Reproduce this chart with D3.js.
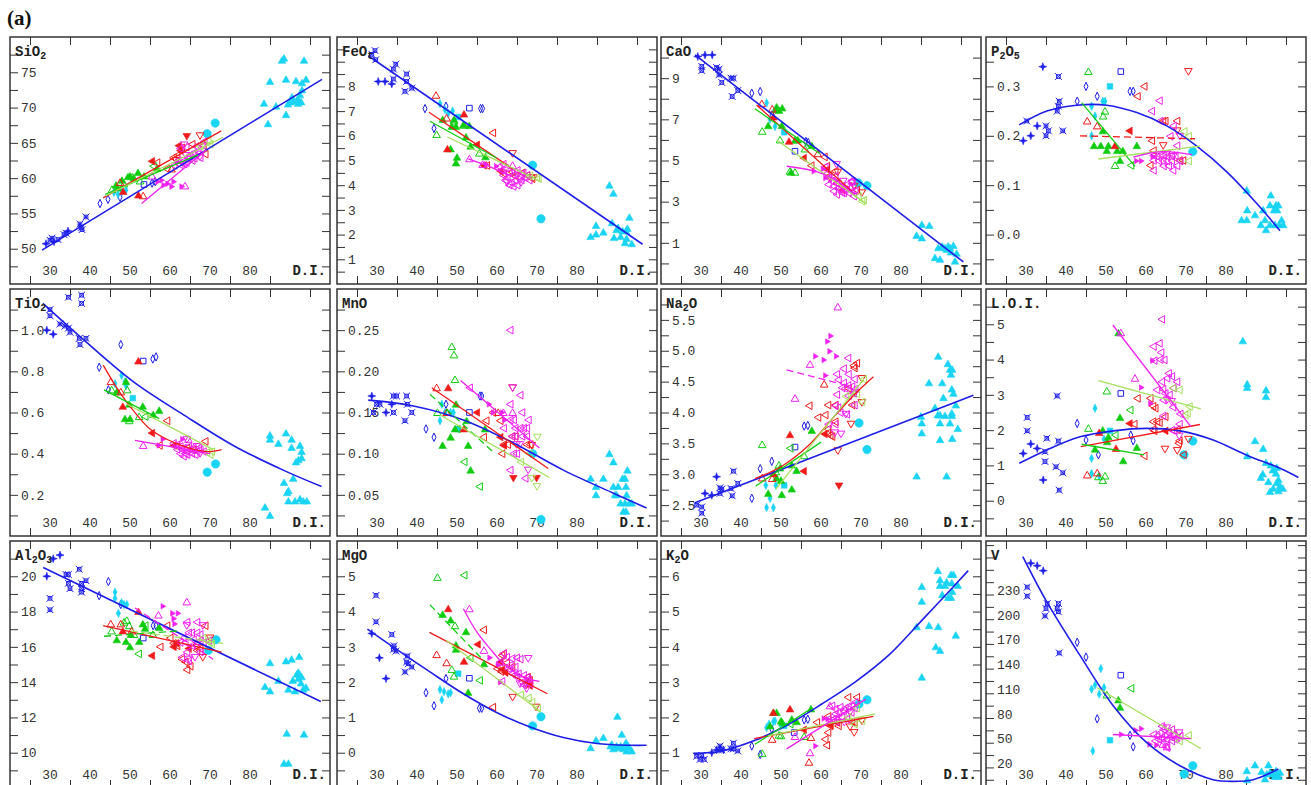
<!DOCTYPE html>
<html>
<head>
<meta charset="utf-8">
<script src="https://cdn.jsdelivr.net/npm/d3@7"></script>
<style>
  body { margin: 0; background: #ffffff; }
  svg { display: block; }
</style>
</head>
<body>
<div id="chart"></div>
<script>
/* Major-oxide variation vs D.I. — 12 small panels */

// ---- axes / panels ----
const PANEL_TITLES = ["SiO_2", "FeO_t", "CaO", "P_2O_5", "TiO_2", "MnO", "Na_2O", "L.O.I.", "Al_2O_3", "MgO", "K_2O", "V"];
const X_DOMAIN = [20, 100];
const X_LABELS = [30, 40, 50, 60, 70, 80];
const X_TOP_TICKS = [25, 35, 45, 55, 65, 75, 85, 95];
const X_BOTTOM_TICKS = [25, 35, 45, 55, 65, 75, 85];
const Y_DOMAINS = [[45, 80], [0, 10], [-1, 11], [-0.1, 0.4], [0, 1.2], [0, 0.3], [2, 6], [-1, 6], [8, 22], [-1, 6], [0, 7], [-10, 290]];
const Y_STEPS = [2.5, 0.5, 1, 0.05, 0.1, 0.025, 0.25, 0.5, 1, 0.5, 0.5, 15];
const Y_LABELS = [
  ["50", "55", "60", "65", "70", "75"],
  ["1", "2", "3", "4", "5", "6", "7", "8"],
  ["1", "3", "5", "7", "9"],
  ["0.0", "0.1", "0.2", "0.3"],
  ["0.2", "0.4", "0.6", "0.8", "1.0"],
  ["0.05", "0.10", "0.15", "0.20", "0.25"],
  ["2.5", "3.0", "3.5", "4.0", "4.5", "5.0", "5.5"],
  ["0", "1", "2", "3", "4", "5"],
  ["10", "12", "14", "16", "18", "20"],
  ["0", "1", "2", "3", "4", "5"],
  ["1", "2", "3", "4", "5", "6"],
  ["20", "50", "80", "110", "140", "170", "200", "230"]
];

// ---- samples: [series code, [[D.I., value], ...]] ----
const SIO2_PTS = [
  ["bs", [[29, 50.7], [31, 51], [34.5, 52.5]]],
  ["bx", [[30, 51.2], [30.5, 51.5], [32, 51.3], [33.5, 52], [34, 52.2], [37.5, 53.5], [37.8, 53], [38, 52.7], [39, 54.5]]],
  ["bd", [[42.5, 56.4], [44.5, 57], [47.5, 57.3], [55.5, 59.3], [56.3, 59.5]]],
  ["bq", [[53.5, 59.1]]],
  ["cd", [[46, 58], [47, 57.7], [48, 58.1], [49, 58.3]]],
  ["cc", [[69.3, 66.3], [71.3, 67.8]]],
  ["ct", [[83.5, 70.6], [84.5, 67.7], [85, 73.7], [86.5, 70.2], [88, 76.7], [88.5, 77], [89, 74], [89, 69], [89.5, 70.5], [90, 70.8], [90.5, 71.5], [91, 71], [91.5, 73.8], [92, 71.2], [92, 70.6], [92.5, 71.8], [93, 73.5], [93, 72.5], [93.5, 76.7], [94, 74], [92.8, 70.8], [91.7, 70.9]]],
  ["gT", [[46.5, 59], [48, 59.7], [49.5, 60.2], [50, 60.3], [52, 60.8], [53.5, 60.3], [56.8, 61.4], [47, 58.6], [51, 60]]],
  ["gt", [[45.5, 58.4], [48.5, 59.2], [52.5, 59.6]]],
  ["gl", [[55.8, 61.7], [50, 60.1]]],
  ["rt", [[47.5, 59.4], [53.3, 57.5], [60.4, 61.3]]],
  ["rT", [[52.1, 57.6], [48.3, 58.1]]],
  ["rL", [[55.4, 62.4], [62.1, 64.6], [62.5, 63.9]]],
  ["rl", [[56.7, 62.2], [59.2, 61.3], [60.8, 62.9], [61.7, 63.2], [62.9, 64.3], [68.3, 64.6], [68.75, 63.4], [65.5, 64.8]]],
  ["rv", [[67.5, 66], [61.5, 62.5]]],
  ["rV", [[64.2, 65.9]]],
  ["ml", [[61, 61.8], [62, 62.5], [62.5, 61.9], [63, 62.3], [63.5, 62], [64, 62.2], [64.5, 62.9], [65, 63.3], [66, 63.6], [66.5, 64.5], [67, 63.8], [68, 64.7], [68.5, 65.2], [62.5, 64.2], [64, 64.4], [65.5, 62.5], [66, 62.8], [67.5, 62.9]]],
  ["mv", [[63.5, 64.7], [64, 63.2], [65, 62.7], [67, 63.4], [67.5, 63]]],
  ["mR", [[57, 59.5], [58, 59.7], [58.5, 59], [59.5, 59.2], [60.5, 58.8], [61, 59.5], [62, 62.3], [63, 58.8]]],
  ["mt", [[63.75, 58.9], [55.5, 60.3]]],
  ["ll", [[67.5, 64.5], [69.5, 65.3], [70, 64.8]]]
];
const FEO_PTS = [
  ["bx", [[28.7, 9.3], [29.5, 9.45], [29.7, 9.08], [34.1, 8.7], [34.7, 8.9], [34.1, 8.3], [37.4, 8.5], [37.4, 8.2], [37, 7.8], [38.7, 7.93]]],
  ["bs", [[30.3, 8.2], [32, 8.2], [33.7, 8.1]]],
  ["bd", [[42, 7.1], [44.25, 6.3], [47.25, 7.2], [55.9, 7.1], [56.4, 7.1]]],
  ["bq", [[53.1, 7.12]]],
  ["cd", [[45.75, 7.3], [47, 7.06], [47.8, 6.9], [48.9, 7]]],
  ["cq", [[50.3, 6.76]]],
  ["cc", [[68.9, 4.81], [71, 2.64]]],
  ["ct", [[88.1, 4.0], [89.1, 3.67], [83.4, 1.92], [84.75, 2.02], [84.75, 2.37], [86.6, 2.1], [89.25, 1.88], [89.9, 2.2], [90.9, 1.92], [91.4, 2.15], [92, 1.67], [92.25, 2.15], [92.6, 2.25], [93.1, 2.7], [93.7, 1.63], [92.4, 1.84], [88.75, 2.48], [90.3, 2.28]]],
  ["gT", [[46.4, 6.66], [48.7, 6.38], [49.75, 6.38], [49.25, 6.66], [52.25, 5.95], [53.1, 6.41], [53.4, 5.58], [48.4, 5.47], [57.1, 5.15], [50, 5.13], [49.75, 4.9], [51.6, 6.45]]],
  ["gt", [[44.9, 6.05], [49.25, 6.6], [51.75, 6.43], [55.6, 5.3]]],
  ["rt", [[44.75, 7.64], [47.4, 6.72]]],
  ["rT", [[51.75, 6.88], [47.6, 5.47]]],
  ["rL", [[54.9, 5.64], [56.6, 4.8], [60.75, 4.57]]],
  ["rl", [[58.9, 6.12], [57.4, 4.8], [61.6, 4.47], [63.7, 4.53], [64.5, 4.37], [67.4, 4.39], [68.7, 4.26], [66.2, 4.5]]],
  ["rv", [[63.9, 5.28], [69.1, 4.3]]],
  ["ml", [[61, 4.6], [61.5, 4.4], [62, 4.7], [62.5, 4.3], [63, 4.5], [63.5, 4.1], [64, 4.4], [64.5, 4.2], [65, 4.6], [65.5, 4.3], [66, 4.4], [66.5, 4.5], [67, 4.3], [67.5, 4.4], [68, 4.2], [62, 4.2], [63, 4.0], [64, 3.95], [60.5, 4.75], [61.5, 4.85], [65, 4.0], [66, 4.2]]],
  ["mt", [[53.1, 5.07], [63.9, 4.8], [56.4, 4.84]]],
  ["mR", [[57.4, 4.84], [59.9, 4.77]]],
  ["mv", [[62.5, 4.1], [64.5, 4.5], [66, 4.1]]],
  ["ll", [[68.1, 4.37], [69.9, 4.3], [70.3, 4.26]]]
];
const CAO_PTS = [
  ["bs", [[29.2, 10.05], [31, 10.13], [32.8, 10.13]]],
  ["bx", [[30.2, 9.57], [30.2, 9.37], [33.9, 9.52], [34.5, 9.16], [35.2, 8.79], [37.5, 9], [38.1, 9], [37.8, 8.11], [39.2, 8.4], [34.5, 9.44]]],
  ["bd", [[42.7, 8.27], [44.8, 8.35], [47.8, 7.22], [56.2, 5.93], [56.8, 5.88]]],
  ["bq", [[53.5, 5.45]]],
  ["cd", [[46.4, 7.8], [47.25, 7.0], [48.5, 6.65]]],
  ["cq", [[50.8, 6.37]]],
  ["cc", [[69.3, 3.91], [71.5, 3.78]]],
  ["ct", [[83.9, 1.36], [85.2, 1.24], [85.2, 1.89], [87.1, 1.84], [88.5, 0.28], [89.75, 0.2], [89.3, 0.76], [90.3, 0.84], [91.4, 0.68], [91.8, 0.84], [92.5, 0.55], [93.1, 0.87], [93.9, 0.49], [93.5, 0.11], [91, 0.76], [92.25, 0.76]]],
  ["gT", [[46.8, 6.69], [48.9, 7.6], [49.5, 7.43], [50.3, 7.55], [50.2, 6.7], [53.5, 5.98], [54.2, 6.0], [57.7, 5.72], [52.5, 4.43], [48.7, 7.47]]],
  ["gt", [[45.3, 6.42], [49.75, 6.0], [52.25, 4.48], [53.5, 4.43], [56, 5.56]]],
  ["rt", [[45.2, 7.76], [47.8, 7.5], [59.2, 5.33]]],
  ["rT", [[52, 5.93], [48.1, 7.11]]],
  ["rL", [[55.6, 5.12], [61.4, 4.56], [65.2, 3.56]]],
  ["rl", [[57.5, 4.75], [60.8, 5.17], [61.4, 4.72], [61.8, 4.23], [63.5, 4.48], [63.9, 3.88], [67.7, 3.99], [68.9, 3.56]]],
  ["rv", [[64.2, 4.43], [70.2, 3.43], [68.3, 3.75]]],
  ["ml", [[61, 4.69], [61.4, 4.36], [61.8, 4.15], [62.7, 3.99], [63.1, 3.75], [63.5, 4.23], [63.9, 3.91], [64.3, 3.67], [64.75, 3.59], [65.2, 3.75], [65.6, 3.43], [66, 3.59], [66.8, 3.43], [67.25, 3.67], [67.7, 3.51], [68.1, 3.26], [68.5, 3.51], [65.2, 3.43], [63.9, 3.35], [66.4, 3.83], [67.7, 3.99], [61.8, 3.83], [63.1, 3.51]]],
  ["mv", [[63.9, 4.8], [65.6, 3.99], [67.7, 3.91]]],
  ["mR", [[58.3, 4.48], [60.6, 4.59], [61.2, 4.15]]],
  ["mt", [[67.7, 4.0]]],
  ["ll", [[70.2, 3.02], [69.3, 3.26], [70.6, 3.07]]]
];
const P2O5_PTS = [
  ["bx", [[30.2, 0.23], [38.1, 0.32], [35, 0.22], [35, 0.2], [35.6, 0.21], [38.3, 0.27], [38.1, 0.26], [39.2, 0.21], [37.8, 0.25]]],
  ["bs", [[34.2, 0.34], [29.3, 0.19], [31.2, 0.2], [32.8, 0.22]]],
  ["bd", [[42.8, 0.27], [45, 0.3], [47.8, 0.28], [56, 0.29], [56.8, 0.29]]],
  ["bq", [[53.7, 0.33]]],
  ["cd", [[46.4, 0.26], [47.25, 0.24], [49.2, 0.27], [49.75, 0.27], [46.4, 0.2]]],
  ["cq", [[51, 0.3]]],
  ["cc", [[71.7, 0.168]]],
  ["ct", [[83.9, 0.03], [85.2, 0.03], [85.3, 0.05], [87.25, 0.04], [89.3, 0.05], [89.75, 0.03], [88.7, 0.02], [90, 0.01], [91, 0.06], [91.2, 0.08], [92, 0.05], [92.5, 0.06], [92.8, 0.05], [93.1, 0.06], [93.9, 0.03], [94.3, 0.02], [91, 0.02], [92.25, 0.02], [93.3, 0.02], [85.2, 0.09]]],
  ["gT", [[47, 0.18], [48.7, 0.18], [49.2, 0.21], [50.6, 0.18], [50.2, 0.17], [52.8, 0.17], [53.5, 0.15], [54.2, 0.17], [57.7, 0.18]]],
  ["gt", [[45.6, 0.33], [49.75, 0.25], [49.3, 0.24], [52.25, 0.14]]],
  ["gl", [[56.2, 0.14]]],
  ["rt", [[45.3, 0.23], [47.8, 0.22]]],
  ["rT", [[52.25, 0.18]]],
  ["rL", [[55.8, 0.21]]],
  ["rl", [[59.5, 0.3], [57.8, 0.28], [61.4, 0.19], [61.8, 0.17], [61, 0.14], [64.2, 0.23], [64.75, 0.23], [67.7, 0.23], [68.3, 0.15], [69.2, 0.15]]],
  ["rv", [[70.6, 0.33], [64.3, 0.18], [67.8, 0.21]]],
  ["ml", [[63.3, 0.271], [61.4, 0.25], [63.5, 0.23], [66.8, 0.22], [66, 0.199], [67.7, 0.18], [61.8, 0.16], [62.7, 0.158], [63.5, 0.16], [64.3, 0.16], [65.2, 0.158], [66.4, 0.16], [67.25, 0.16], [61.8, 0.15], [63.1, 0.149], [64.2, 0.149], [65.2, 0.149], [66.4, 0.149], [68.5, 0.149], [61.8, 0.13], [64.3, 0.139], [65.6, 0.139], [66.7, 0.13], [67.7, 0.139]]],
  ["mv", [[65.2, 0.164], [66.8, 0.158], [68.5, 0.199]]],
  ["mR", [[58.9, 0.149], [57.7, 0.149], [61.8, 0.158]]],
  ["ll", [[69.5, 0.209], [70.6, 0.199], [70.6, 0.149]]]
];
const TIO2_PTS = [
  ["bx", [[34.6, 1.16], [37.9, 1.17], [37.9, 1.13], [30, 1.1], [30, 1.07], [32.5, 1.03], [33.75, 1.02], [34.6, 1.01], [35, 0.99], [37.3, 0.96], [37.5, 0.93], [39, 0.96]]],
  ["bs", [[29.2, 1.0], [30.8, 0.98]]],
  ["bd", [[42.3, 0.82], [47.7, 0.93], [55.7, 0.86], [56.5, 0.87], [44.6, 0.71]]],
  ["bq", [[53.3, 0.85]]],
  ["cd", [[46.25, 0.74], [47.9, 0.78], [48.75, 0.75], [49, 0.73]]],
  ["cq", [[50.7, 0.67]]],
  ["cc", [[69.3, 0.31], [71.4, 0.35]]],
  ["ct", [[85, 0.49], [85, 0.47], [87.1, 0.45], [89, 0.5], [90.4, 0.47], [90.4, 0.43], [92.5, 0.44], [92.9, 0.41], [92.1, 0.37], [91.5, 0.36], [92.9, 0.38], [90.8, 0.28], [88.5, 0.26], [89.6, 0.22], [89.3, 0.21], [89.6, 0.17], [91.25, 0.17], [92.5, 0.18], [93.3, 0.17], [94.2, 0.17], [83.75, 0.14], [85, 0.1]]],
  ["gT", [[46.7, 0.70], [49, 0.75], [49.8, 0.64], [48.75, 0.57], [50, 0.57], [53.2, 0.63], [55.8, 0.59], [57.3, 0.61]]],
  ["gt", [[45.4, 0.71], [49.3, 0.71], [49.8, 0.56], [52.3, 0.58]]],
  ["gl", [[53.75, 0.58]]],
  ["rt", [[45.2, 0.75], [47.7, 0.70]]],
  ["rT", [[52.1, 0.85], [48.2, 0.63]]],
  ["rL", [[55.4, 0.50], [60.8, 0.44]]],
  ["rl", [[59.2, 0.56], [57.3, 0.44], [68.75, 0.46], [61.7, 0.435], [64.2, 0.427], [65.8, 0.419]]],
  ["ml", [[60.8, 0.45], [61.7, 0.443], [62.5, 0.435], [62.9, 0.42], [63.3, 0.427], [63.75, 0.40], [64.2, 0.41], [65, 0.42], [65.4, 0.40], [65.8, 0.427], [66.7, 0.41], [67.5, 0.42], [62.5, 0.40], [63.3, 0.387], [64.2, 0.395], [64.6, 0.435], [66.25, 0.395], [67.1, 0.427], [61.7, 0.42], [68.3, 0.41]]],
  ["mv", [[64.2, 0.468], [66.7, 0.435], [67.5, 0.40]]],
  ["mR", [[57.3, 0.44], [58.3, 0.47], [63.2, 0.47]]],
  ["mt", [[53.3, 0.44], [64.6, 0.47]]],
  ["ll", [[70, 0.395], [70.4, 0.41], [69.2, 0.406]]]
];
const MNO_PTS = [
  ["bx", [[29.1, 0.15], [29.9, 0.16], [30.75, 0.16], [34.1, 0.17], [34.9, 0.17], [34.1, 0.15], [37.4, 0.17], [37.6, 0.16], [37, 0.14], [38.7, 0.15]]],
  ["bs", [[28.7, 0.17], [32.25, 0.15], [33.7, 0.16]]],
  ["bd", [[42.25, 0.13], [44.25, 0.12], [47.25, 0.16], [55.75, 0.17], [56.2, 0.17]]],
  ["bq", [[53.1, 0.15]]],
  ["cd", [[45.75, 0.14], [46.2, 0.16], [47, 0.15], [48.4, 0.15], [49.1, 0.15]]],
  ["cq", [[50.3, 0.13]]],
  ["cc", [[68.9, 0.10], [71, 0.02]]],
  ["ct", [[88.1, 0.10], [89.1, 0.09], [83.4, 0.07], [84.75, 0.06], [84.75, 0.05], [86.6, 0.07], [89.1, 0.06], [89.9, 0.05], [90.3, 0.06], [90.9, 0.04], [91.4, 0.07], [92, 0.07], [92.25, 0.06], [92.4, 0.05], [92.6, 0.08], [91.6, 0.03], [92.25, 0.03], [93.1, 0.04], [93.7, 0.04], [92, 0.04], [89.5, 0.05]]],
  ["gT", [[46.4, 0.11], [48.4, 0.12], [49.75, 0.16], [49.5, 0.13], [52.4, 0.14], [52.8, 0.11], [53.4, 0.08], [57, 0.13]]],
  ["gt", [[45.1, 0.15], [48.7, 0.23], [49.25, 0.22], [49.5, 0.19], [47.6, 0.15]]],
  ["gl", [[55.6, 0.06], [51.75, 0.09], [50, 0.13]]],
  ["rt", [[44.9, 0.18], [47.4, 0.15], [60.3, 0.15]]],
  ["rT", [[47.8, 0.18], [51.75, 0.13]]],
  ["rL", [[54.9, 0.15], [60.75, 0.12], [61.6, 0.11]]],
  ["rl", [[57.25, 0.14], [56.6, 0.12], [58.9, 0.15], [60.75, 0.14], [61.2, 0.10], [61.6, 0.111], [62.6, 0.111], [63.7, 0.121], [64.5, 0.121], [67.4, 0.111], [68.25, 0.111]]],
  ["rv", [[63.9, 0.18], [68.7, 0.11]]],
  ["rV", [[64.1, 0.07], [69.9, 0.07]]],
  ["ml", [[63.25, 0.25], [53.1, 0.18], [65.75, 0.171], [63.25, 0.16], [66.2, 0.15], [67.8, 0.141], [63.25, 0.141], [64.1, 0.141], [61.6, 0.131], [64.5, 0.131], [65.75, 0.131], [66.6, 0.131], [67.4, 0.131], [63.7, 0.121], [64.5, 0.121], [66.2, 0.121], [67.4, 0.121], [64.1, 0.10], [64.9, 0.10], [63.25, 0.08], [67, 0.07]]],
  ["mv", [[63.9, 0.18], [67.8, 0.08], [64.9, 0.111], [65.75, 0.111]]],
  ["mR", [[58.1, 0.16], [61.4, 0.15], [62, 0.141], [59.1, 0.15]]],
  ["mt", [[61.6, 0.15], [63.9, 0.15]]],
  ["lv", [[70.1, 0.12], [68.7, 0.07], [70, 0.06]]],
  ["ll", [[65.9, 0.09], [68, 0.10]]]
];
const NA2O_PTS = [
  ["bx", [[28.9, 2.5], [30.2, 2.47], [30.2, 2.37], [34.75, 2.78], [35.2, 2.76], [34.75, 2.69], [37.5, 2.77], [37.8, 2.65], [38.1, 3.05], [39.2, 2.85]]],
  ["bs", [[31, 2.69], [32.7, 2.66], [33.9, 2.96]]],
  ["bd", [[42.7, 2.61], [44.8, 3.09], [47.7, 3.21], [55.8, 3.78], [56.7, 3.79]]],
  ["bq", [[53.5, 3.44]]],
  ["cd", [[46.2, 2.82], [47.25, 2.61], [46.4, 2.46], [48.1, 2.46], [48.7, 2.82]]],
  ["cq", [[50.8, 2.82]]],
  ["cc", [[69.5, 3.83], [71.5, 3.4]]],
  ["ct", [[89.3, 4.91], [91.7, 4.79], [92.25, 4.7], [92.5, 4.62], [92.8, 4.7], [90.3, 4.48], [87, 4.48], [90.6, 4.24], [92.7, 4.38], [93.1, 4.31], [93.7, 4.12], [88.5, 4.08], [89.2, 3.96], [89.75, 3.96], [91, 3.95], [92.7, 3.99], [92.7, 3.95], [85, 3.94], [85.2, 3.83], [89.75, 3.83], [92.25, 3.83], [94.2, 3.74], [85.2, 3.67], [89.75, 3.56], [92.8, 3.58], [83.9, 2.97], [91.4, 2.97]]],
  ["gT", [[46.8, 2.69], [48.9, 2.94], [50, 2.9], [50.2, 2.67], [52.7, 2.76], [53.9, 3.06], [49.75, 3.1], [57.7, 3.71], [52.7, 3.15]]],
  ["gt", [[45.3, 3.48], [49.5, 3.15], [48.7, 3.04], [55.8, 3.3]]],
  ["gl", [[52.25, 3.42]]],
  ["rt", [[45.3, 2.94], [47.8, 2.93], [60.8, 4.46]]],
  ["rT", [[52.25, 3.64], [48.1, 3.01]]],
  ["rL", [[55.6, 3.05], [60.8, 3.65]]],
  ["rl", [[57, 4.11], [59.2, 3.92], [61, 3.96], [61.7, 4.12], [63.5, 4.12], [63.5, 3.85], [61.7, 3.73], [61.7, 3.67], [62.25, 3.63], [62.7, 3.61], [68.9, 4.8], [68.1, 4.76], [68.3, 4.72], [67.7, 4.12], [66.8, 4.39]]],
  ["rv", [[70.2, 4.55], [64.2, 3.38], [67.5, 3.81], [70.2, 4.16]]],
  ["rV", [[64.5, 2.81]]],
  ["ml", [[66.7, 4.88], [65.6, 4.71], [66.8, 4.62], [68.3, 4.54], [63.9, 4.62], [64.3, 4.53], [65.6, 4.48], [66.7, 4.44], [67.7, 4.42], [65.2, 4.4], [66, 4.39], [68.5, 4.38], [63.9, 4.29], [66.8, 4.27], [68.1, 4.31], [63.5, 4.11], [64.2, 4.08], [64.75, 4.0], [66.4, 3.97], [61.8, 3.81], [63.5, 3.81], [68.3, 4.12]]],
  ["mv", [[65, 3.65], [63.5, 3.67], [66.2, 3.97], [68.5, 4.32]]],
  ["mR", [[58.7, 4.91], [60.8, 4.85], [62.25, 4.99], [62.5, 5.24], [61.7, 5.15], [63.9, 4.91], [61.2, 4.6]]],
  ["mt", [[64.2, 5.71], [57.25, 4.78], [53.5, 4.23]]],
  ["ll", [[66.2, 4.26], [70.2, 4.17], [68.9, 4.3], [70.6, 4.54]]]
];
const LOI_PTS = [
  ["bx", [[30.3, 2.36], [30.3, 1.98], [35.2, 1.77], [34.75, 1.39], [34.75, 1.11], [37.8, 2.97], [38.1, 1.69], [37.5, 0.96], [39.2, 0.79], [38.3, 0.3]]],
  ["bs", [[29.3, 1.34], [31.2, 1.61], [32.8, 1.48], [34.3, 0.59]]],
  ["bd", [[42.8, 2.19], [45, 1.72], [48.1, 1.3], [56.2, 1.86], [56.8, 1.7]]],
  ["bq", [[53.7, 3.04]]],
  ["cd", [[47.25, 2.62], [46.4, 1.2], [46.4, 0.77], [48.3, 0.7], [49.5, 1.74]]],
  ["cq", [[51, 1.98]]],
  ["cc", [[69.5, 1.3], [71.7, 1.69]]],
  ["ct", [[84.2, 4.53], [85.3, 3.31], [85.3, 3.21], [90, 3.14], [90, 2.95], [87.25, 1.7], [89.3, 1.48], [85.3, 1.27], [90, 1.08], [91.2, 1.01], [91.7, 0.87], [92.7, 0.94], [92.5, 0.78], [93.1, 0.6], [92.7, 0.51], [89.2, 0.76], [88.7, 0.66], [90.6, 0.54], [91.8, 0.35], [91, 0.26], [93.1, 0.28], [94.2, 0.35], [93.5, 0.42]]],
  ["gT", [[47.25, 1.46], [49.2, 2.0], [50.6, 1.81], [50.3, 1.67], [53.5, 2.36], [54.3, 1.13], [57.7, 1.51], [53.1, 4.76]]],
  ["gt", [[45.6, 2.05], [50.2, 3.11], [48.1, 0.68], [49.75, 0.7], [49.2, 0.57]]],
  ["gl", [[52.25, 1.86], [56, 2.57]]],
  ["rt", [[45.3, 0.73], [47.8, 0.79]]],
  ["rT", [[52.5, 1.48], [48.3, 1.93]]],
  ["rL", [[55.8, 2.19], [64.75, 1.98]]],
  ["rl", [[57.8, 2.9], [57, 2.17], [61, 2.9], [61.7, 2.68], [62.25, 2.62], [61.7, 2.24], [62.7, 2.24], [63.3, 2.21], [61.7, 2.02], [62, 1.98], [67.8, 2.02], [68.3, 1.7], [69.3, 1.3], [59.5, 1.27], [64.75, 2.38], [68.1, 1.63]]],
  ["rv", [[64.75, 1.46], [67.8, 1.42], [70.6, 1.74]]],
  ["ml", [[63.9, 5.14], [61.8, 4.37], [63.3, 4.46], [63.7, 4.2], [62, 3.97], [63.5, 4.0], [64.5, 3.99], [65.6, 3.61], [66.4, 3.52], [65.2, 3.47], [67.7, 3.37], [63.9, 3.37], [62.7, 3.14], [64.2, 3.16], [64.75, 3.04], [65.8, 3.0], [64.3, 2.85], [66.8, 3.19], [66.7, 2.65], [64.2, 2.4], [68.5, 2.46], [67, 1.98], [66.4, 2.0], [68.3, 2.17]]],
  ["mv", [[65.2, 2.85], [68.3, 1.83], [66.4, 2.81]]],
  ["mR", [[58.9, 3.21], [61.7, 3.97], [61.2, 2.76]]],
  ["mt", [[53.7, 4.76], [57.25, 3.47]]],
  ["ll", [[66.7, 3.19], [68.3, 3.14], [70.8, 2.67], [69.75, 2.43], [70.3, 2.48]]]
];
const AL2O3_PTS = [
  ["bx", [[30, 18.75], [30, 18.1], [34, 20.1], [34.6, 20.1], [34.6, 19.6], [35, 19.3], [37.3, 20.4], [37.9, 19.6], [37.9, 19.3], [37.9, 19.1], [39, 19.75]]],
  ["bs", [[29.2, 20], [30.8, 21], [32.5, 21.2]]],
  ["bd", [[42.3, 18.9], [44.6, 19.7], [47.7, 18.4], [55.8, 17.2], [56.5, 17.2]]],
  ["bq", [[53.3, 16.5]]],
  ["cd", [[46.25, 19.1], [46.25, 18.75], [47.1, 17.9], [47.9, 18.5], [48.5, 18.4], [49.2, 18.4]]],
  ["cc", [[71.5, 16.4], [69.6, 15.8]]],
  ["ct", [[85, 15.1], [83.75, 13.75], [85, 13.5], [87.1, 14.1], [89, 15.2], [90.4, 15.3], [92.3, 15.45], [89.6, 13.6], [90.7, 14.1], [91.25, 13.5], [91.7, 14.45], [92.1, 14.55], [92.5, 14.4], [92.75, 13.95], [92.9, 14.3], [93.3, 13.6], [94, 13.7], [92.1, 14.2], [89.2, 11.1], [93.5, 11.05], [88.5, 9.4], [89.6, 9.4]]],
  ["gT", [[46.7, 16.4], [49, 16.3], [50, 16.0], [50.2, 16.7], [52.3, 16.3], [53.2, 17.3], [53.75, 17.05], [57.3, 17.1]]],
  ["gt", [[45.4, 16.9], [48.5, 17.4], [49.2, 17.5], [49.8, 17.2], [51, 16.7], [55.7, 16.7]]],
  ["gl", [[52.1, 15.6], [53.75, 17.2]]],
  ["rt", [[45.2, 17.3], [47.7, 17.3], [50.4, 16.9]]],
  ["rT", [[52.1, 18], [48.2, 16.9]]],
  ["rL", [[55.4, 15.5], [60.8, 16], [61.5, 16.2], [64.6, 15.9]]],
  ["rl", [[57.5, 16], [59.2, 17.2], [60, 16.5], [60.8, 16.2], [61.7, 16.06], [62.9, 15.3], [63.75, 15.15], [64.2, 14.7], [65, 14.9], [68.75, 17.2], [67.5, 15.9], [66.7, 15.8]]],
  ["rv", [[70, 16.5], [68.2, 15.4], [66.7, 15.97]]],
  ["ml", [[64.2, 17.4], [66.7, 17.4], [64.6, 16.8], [65.4, 16.8], [66.7, 16.8], [67.5, 16.7], [63.3, 16.5], [63.75, 16.25], [65.8, 16.4], [67.5, 16.35], [68.3, 16.25], [64.2, 15.7], [65.4, 16.06], [66.7, 16.25], [62.9, 15.4], [64.6, 15.2], [67.5, 15.7], [69.6, 16.35], [62.5, 16.25]]],
  ["mv", [[66.25, 15.4], [64.2, 17.2], [68.2, 17.2], [64.8, 15.3]]],
  ["mR", [[58.3, 18.3], [60.7, 17.9], [62.1, 17.9], [61, 17.6], [61.25, 17.3]]],
  ["mt", [[64.2, 18.55], [57.1, 17.8]]],
  ["ll", [[68.2, 16.5], [70, 16.25], [70.4, 16.15], [69.2, 16.35]]]
];
const MGO_PTS = [
  ["bx", [[29.75, 4.46], [29.75, 3.71], [33.7, 3.35], [34.25, 3.03], [34.1, 2.93], [34.75, 2.88], [37.6, 2.74], [37.4, 2.57], [37, 2.29], [38.7, 2.43], [37.8, 2.52]]],
  ["bs", [[28.7, 3.38], [30.6, 2.69], [32.25, 2.1]]],
  ["bd", [[42.25, 1.7], [44.25, 1.33], [47.25, 2.1], [55.6, 1.26], [56.2, 1.26]]],
  ["bq", [[53.1, 2.11]]],
  ["cd", [[45.75, 1.79], [46.75, 1.73], [46.2, 1.5], [47.8, 1.67], [48.4, 1.7]]],
  ["cq", [[50.3, 2.24]]],
  ["cc", [[68.9, 0.76], [71, 1.02]]],
  ["ct", [[83.4, 0.14], [84.75, 0.36], [86.6, 0.43], [88.7, 0.24], [89.1, 0.11], [89.9, 0.19], [90.1, 1.03], [91.2, 0.52], [90.9, 0.19], [91.6, 0.11], [92.25, 0.29], [92.4, 0.05], [92.8, 0.19], [93.7, 0.05], [90.3, 0.14], [92, 0.19], [93.1, 0.14], [88.4, 0.19]]],
  ["gT", [[46.4, 3.92], [48.4, 3.76], [49.75, 3.05], [49.75, 2.93], [52.25, 3.43], [52.8, 1.71], [56.75, 2.52]]],
  ["gt", [[45.1, 4.97], [49.5, 3.6], [48.7, 2.36], [49.25, 2.17]]],
  ["gl", [[51.75, 5.03], [55.6, 2.05], [53.25, 2.69]]],
  ["rt", [[44.9, 2.78], [47.4, 2.55]]],
  ["rT", [[47.8, 4.08], [51.75, 2.59]]],
  ["rL", [[55.1, 3.07], [60.75, 2.57], [61.2, 2.36], [62, 2.27], [67.4, 2.0], [68.1, 1.9]]],
  ["rl", [[56.6, 3.48], [58.9, 1.29], [61.2, 2.76], [61.6, 2.81], [62.4, 2.55], [60, 2.38], [60.9, 2.3], [63.7, 2.43], [67.6, 2.14], [68.1, 2.05]]],
  ["rv", [[63.9, 1.57], [69.75, 1.29], [67.4, 1.92]]],
  ["ml", [[61.6, 2.81], [62.4, 2.71], [63.7, 2.67], [64.9, 2.69], [65.75, 2.65], [63.25, 2.48], [64.5, 2.43], [62.8, 2.38], [63.7, 2.24], [64.5, 2.21], [65.3, 2.24], [66.6, 2.19], [67.4, 2.14], [67.8, 2.08], [66.2, 2.0], [66.6, 1.92], [68.25, 1.95], [61.2, 2.02], [60.75, 2.57], [64.9, 2.14]]],
  ["mv", [[67.8, 2.67], [65.75, 1.95], [67.4, 1.81]]],
  ["mR", [[58.25, 2.69], [60.3, 2.48], [60.9, 2.0]]],
  ["mt", [[53.1, 4.08], [56.75, 2.9]]],
  ["ll", [[65.9, 1.64], [68.7, 1.43], [70.1, 1.26], [67.8, 1.55]]]
];
const K2O_PTS = [
  ["bx", [[28.9, 0.9], [29.75, 0.81], [30.2, 0.92], [30.8, 0.81], [34.3, 1.08], [34.75, 1.19], [35.2, 1.08], [37.5, 1.11], [38.1, 1.27], [38.1, 1.11], [39.2, 1.05]]],
  ["bs", [[32.7, 1.0], [33.9, 1.08], [35.6, 1.08]]],
  ["bd", [[42.7, 1.19], [44.8, 0.95], [47.7, 1.67], [55.8, 1.93], [56.7, 1.95]]],
  ["bq", [[53.3, 1.57]]],
  ["cd", [[46.4, 1.71], [47, 1.81], [48.1, 1.88], [48.5, 1.9], [50, 1.78]]],
  ["cq", [[50.8, 1.76]]],
  ["cc", [[69.5, 2.38], [71.5, 2.5]]],
  ["ct", [[89.2, 6.16], [89.75, 5.9], [92.5, 6.05], [93.1, 6.05], [91.4, 5.84], [89.75, 5.74], [91, 5.74], [92.7, 5.81], [94.2, 5.74], [92.8, 5.57], [90.3, 5.48], [91.8, 5.4], [92.5, 5.4], [85.2, 5.71], [85.2, 5.29], [83.9, 4.57], [87, 4.6], [89.3, 4.57], [88.7, 4.0], [89.75, 3.9], [93.7, 4.33], [85.2, 3.14]]],
  ["gT", [[48.1, 2.14], [48.9, 2.14], [50, 1.9], [50.3, 1.86], [52.7, 1.95], [53.9, 1.88], [57.5, 2.24], [47.25, 1.76]]],
  ["gt", [[45.3, 0.98], [49.5, 1.5], [50, 1.48], [55.8, 1.46]]],
  ["gl", [[52.25, 1.81]]],
  ["rt", [[47.8, 1.38], [57, 0.73], [57.5, 1.43]]],
  ["rT", [[52.25, 2.24], [48.1, 2.14]]],
  ["rL", [[55.6, 1.65], [62.25, 1.78]]],
  ["rl", [[58.9, 1.86], [61, 1.38], [61.4, 1.21], [61.7, 1.57], [61.7, 2.03], [62.25, 1.76], [63.9, 1.86], [64.3, 1.76], [67.7, 1.88], [68.9, 2.57], [68.3, 1.86], [66.7, 2.57]]],
  ["rv", [[68.3, 1.57], [67.25, 1.73], [70.2, 1.9]]],
  ["ml", [[62.7, 2.33], [63.5, 2.24], [64.3, 2.14], [64.75, 2.29], [65.6, 2.19], [66, 2.26], [66.8, 2.31], [67.7, 2.33], [63.9, 2.0], [65.2, 2.0], [66.4, 1.95], [67.5, 2.14], [68.5, 2.43], [68.3, 2.26], [63.1, 1.95], [63.5, 2.1], [61.8, 1.95]]],
  ["mv", [[67.25, 2.14], [64.2, 1.86], [65.8, 1.86]]],
  ["mR", [[58.7, 1.19], [60.8, 1.97], [61.8, 1.95]]],
  ["mt", [[57.25, 1.0], [53.5, 1.46], [62.25, 2.33]]],
  ["ll", [[66.7, 2.0], [68.9, 2.26], [70.2, 1.9], [68.3, 1.81]]]
];
const V_PTS = [
  ["bs", [[31.2, 263], [32.8, 260], [34.3, 254]]],
  ["bx", [[30.3, 234], [30.3, 223], [35.3, 214], [35, 208], [34.75, 199], [38.1, 214], [37.8, 208], [38.1, 204], [38.3, 154]]],
  ["bd", [[42.8, 167], [45, 149], [47.8, 74], [56, 54], [56.8, 40]]],
  ["bq", [[53.7, 127]]],
  ["cd", [[46.4, 110], [47.25, 115], [48.7, 135], [48.3, 104], [49.5, 112], [46.7, 35]]],
  ["cq", [[51, 48]]],
  ["cc", [[69.5, 7], [71.7, 17]]],
  ["ct", [[85.2, 11], [87.25, 18], [88.9, 10], [90.6, 18], [91, 9], [91.8, 7], [92.5, 11], [92.8, 9], [93.1, 4], [93.5, 9], [89.75, 1], [85.3, 0], [90.2, 7], [92.25, 4]]],
  ["gT", [[53.1, 97], [53.5, 88]]],
  ["gt", [[50.2, 103]]],
  ["gl", [[56.2, 111]]],
  ["ml", [[61.8, 55], [62.7, 53], [63.5, 57], [63.9, 51], [64.3, 61], [64.75, 54], [65.2, 49], [65.6, 57], [66, 52], [66.4, 47], [66.8, 55], [67.7, 51], [68.5, 53], [64.2, 46], [65, 41], [63.1, 49], [62.25, 47], [67.25, 49], [65.2, 39], [63.9, 65], [66.4, 61]]],
  ["mv", [[65.2, 63], [68.3, 57], [66.8, 54]]],
  ["mR", [[57.5, 60], [58.9, 62], [61, 43], [62.7, 42], [53.9, 55]]],
  ["mt", [[64.2, 43], [65.2, 40]]],
  ["ll", [[70.6, 54], [68.3, 47]]]
];

// ---- trend lines: [colour code, dashed, [[D.I., value], ...]] ----
const SIO2_LINES = [
  ["b", 0, [[28, 49.8], [98, 74]]],
  ["r", 0, [[43.3, 57.2], [72.8, 66.7]]],
  ["g", 0, [[43.8, 57.7], [67, 63.3]]],
  ["l", 0, [[44, 57.5], [73.3, 65.8]]],
  ["m", 0, [[52.9, 56.4], [69, 64]]]
];
const FEO_LINES = [
  ["b", 0, [[27.8, 9.24], [96.4, 1.61]]],
  ["r", 0, [[43, 6.95], [63.9, 4.66]]],
  ["g", 0, [[43.25, 6.59], [59.9, 5.1]]],
  ["l", 0, [[47.6, 5.95], [70.9, 4.16]]],
  ["m", 0, [[52.8, 5.07], [57.4, 4.8], [63, 4.4]]]
];
const CAO_LINES = [
  ["b", 0, [[28.5, 10.13], [95.6, 0.07]]],
  ["r", 0, [[43.9, 7.7], [67.7, 3.51]]],
  ["g", 0, [[43.5, 7.51], [59.75, 5.33]]],
  ["l", 0, [[48.9, 6.0], [71, 2.94]]],
  ["m", 0, [[51.4, 4.72], [58.5, 4.48], [63.5, 4.07], [66.8, 3.59], [68.5, 3.35]]]
];
const P2O5_LINES = [
  ["b", 0, [[28.3, 0.222], [35.2, 0.25], [42.7, 0.262], [50.2, 0.262], [57.7, 0.247], [65.2, 0.22], [72.7, 0.179], [80.2, 0.127], [87.7, 0.063], [93.5, 0.008]]],
  ["r", 1, [[43.5, 0.2], [72.25, 0.194]]],
  ["g", 0, [[43.9, 0.267], [57.25, 0.138]]],
  ["l", 0, [[48.1, 0.153], [73.5, 0.179]]],
  ["m", 0, [[56.8, 0.157], [64, 0.168], [71.5, 0.162]]]
];
const TIO2_LINES = [
  ["b", 0, [[28.2, 1.13], [38.3, 0.955], [50.8, 0.75], [63.3, 0.59], [75.8, 0.44], [88.3, 0.32], [97.9, 0.24]]],
  ["r", 0, [[43.3, 0.83], [46.7, 0.72], [50.8, 0.61], [55, 0.52], [59.2, 0.47], [64.2, 0.43], [69.2, 0.41], [72.9, 0.42]]],
  ["g", 0, [[43.5, 0.71], [57.3, 0.57]]],
  ["l", 0, [[49.3, 0.64], [70.8, 0.42]]],
  ["m", 0, [[51.25, 0.465], [70, 0.40]]]
];
const MNO_LINES = [
  ["b", 0, [[27.8, 0.165], [39.1, 0.158], [51.6, 0.141], [64.1, 0.113], [76.6, 0.08], [89.1, 0.052], [97.4, 0.034]]],
  ["r", 0, [[43.7, 0.18], [72.8, 0.082]]],
  ["g", 1, [[43.25, 0.172], [59.5, 0.10]]],
  ["l", 0, [[45.75, 0.147], [73.1, 0.071]]],
  ["m", 0, [[50.9, 0.189], [70.6, 0.107]]]
];
const NA2O_LINES = [
  ["b", 0, [[28.5, 2.54], [98.1, 4.28]]],
  ["r", 0, [[43.5, 2.93], [50.2, 3.13], [56.8, 3.46], [63.5, 3.95], [68.5, 4.3], [73.1, 4.58]]],
  ["g", 0, [[43.7, 2.81], [60, 3.52]]],
  ["l", 0, [[48.7, 2.76], [70.8, 4.55]]],
  ["m", 1, [[51.4, 4.69], [65.2, 4.46]]]
];
const LOI_LINES = [
  ["b", 0, [[28.3, 1.06], [35.2, 1.44], [43.5, 1.81], [51.8, 1.98], [60.2, 2.05], [68.5, 1.98], [76.8, 1.72], [85.2, 1.29], [93.5, 0.92], [98.1, 0.66]]],
  ["r", 0, [[43.7, 1.53], [73.5, 2.16]]],
  ["g", 0, [[43.9, 1.6], [59.5, 1.3]]],
  ["l", 0, [[48.1, 3.4], [73.7, 2.6]]],
  ["m", 0, [[51.7, 4.98], [71.2, 2.1]]]
];
const AL2O3_LINES = [
  ["b", 0, [[28.3, 20.5], [97.7, 12.9]]],
  ["r", 0, [[43.3, 17.2], [72.9, 15.7]]],
  ["g", 1, [[43.5, 16.6], [61.7, 16.9]]],
  ["l", 1, [[50.2, 16.9], [73.3, 16.2]]],
  ["m", 1, [[51.25, 18.2], [70.8, 15.3]]]
];
const MGO_LINES = [
  ["b", 0, [[27.6, 3.5], [34.9, 2.93], [43.25, 2.29], [51.6, 1.67], [59.9, 1.14], [68.25, 0.73], [76.6, 0.43], [84.9, 0.26], [93.25, 0.21], [97.4, 0.21]]],
  ["r", 0, [[43.1, 3.41], [72.6, 1.67]]],
  ["g", 1, [[43.25, 4.19], [57, 2.57]]],
  ["l", 0, [[47.25, 3.19], [70.6, 1.19]]],
  ["m", 0, [[51.6, 4.08], [54.9, 3.43], [58.25, 2.95], [61.6, 2.52], [65, 2.24], [68.25, 2.08], [70.6, 2.02]]]
];
const K2O_LINES = [
  ["b", 0, [[28.1, 0.98], [35.2, 1.05], [43.5, 1.35], [51.8, 1.8], [60.2, 2.38], [68.5, 3.0], [76.8, 3.75], [85.2, 4.75], [91, 5.45], [96.8, 6.16]]],
  ["r", 0, [[43.3, 1.4], [73.1, 2.03]]],
  ["g", 0, [[43.5, 1.24], [57.7, 2.26]]],
  ["l", 0, [[46.8, 1.48], [73.5, 2.1]]],
  ["m", 0, [[51.4, 1.11], [71.2, 2.52]]]
];
const V_LINES = [
  ["b", 0, [[29.2, 271], [35.2, 216], [43.5, 151], [51.8, 90], [60.2, 45], [68.5, 17], [76.8, 0], [81.8, -2], [86.8, 0], [93.1, 13]]],
  ["l", 0, [[47.7, 112], [73.7, 38]]],
  ["m", 0, [[51.7, 55], [71.2, 50]]]
];

const PANEL_PTS = [SIO2_PTS, FEO_PTS, CAO_PTS, P2O5_PTS, TIO2_PTS, MNO_PTS, NA2O_PTS, LOI_PTS, AL2O3_PTS, MGO_PTS, K2O_PTS, V_PTS];
const PANEL_LINES = [SIO2_LINES, FEO_LINES, CAO_LINES, P2O5_LINES, TIO2_LINES, MNO_LINES, NA2O_LINES, LOI_LINES, AL2O3_LINES, MGO_LINES, K2O_LINES, V_LINES];

// ---- styles ----
const COLORS = { b: "#1e1ee8", c: "#1ad4f4", g: "#10cc10", r: "#f01a1a", m: "#f020f0", l: "#a4e05c" };
// [shape, colour, filled]
const MARKS = {
  bx: ["xsq", "b", 0], bs: ["star", "b", 1], bd: ["dia", "b", 0], bq: ["sq", "b", 0],
  cd: ["dia", "c", 1], cq: ["sq", "c", 1], cc: ["circ", "c", 1], ct: ["up", "c", 1],
  gT: ["up", "g", 1], gt: ["up", "g", 0], gl: ["left", "g", 0],
  rt: ["up", "r", 0], rT: ["up", "r", 1], rL: ["left", "r", 1], rl: ["left", "r", 0],
  rv: ["down", "r", 0], rV: ["down", "r", 1],
  ml: ["left", "m", 0], mv: ["down", "m", 0], mt: ["up", "m", 0], mR: ["right", "m", 1],
  ll: ["left", "l", 0], lv: ["down", "l", 0]
};
const SHAPES = {
  up: "M0,-3.6L3.8,3L-3.8,3Z",
  down: "M0,3.6L3.8,-3L-3.8,-3Z",
  left: "M-3.6,0L3,-3.8L3,3.8Z",
  right: "M2.6,0L-2.2,-2.8L-2.2,2.8Z",
  dia: "M0,-4.2L2,0L0,4.2L-2,0Z",
  sq: "M-2.8,-2.8H2.8V2.8H-2.8Z",
  circ: "M4.2,0A4.2,4.2 0 1,1 -4.2,0A4.2,4.2 0 1,1 4.2,0Z",
  star: "M0,-4L1,-1L4,0L1,1L0,4L-1,1L-4,0L-1,-1Z",
  xsq: "M-3.4,-3.4L3.4,3.4M-3.4,3.4L3.4,-3.4M-1.8,-1.8H1.8V1.8H-1.8Z"
};

const W = 1311, H = 785;
const COL_X = [10, 337, 661, 986];
const ROW_Y = [37, 289, 541];
const PW = 320, PH = 247;
const INK = "#333333";
const MONO = "'Liberation Mono', 'DejaVu Sans Mono', monospace";

const svg = d3.select("#chart").append("svg")
  .attr("width", W).attr("height", H)
  .attr("viewBox", `0 0 ${W} ${H}`);

svg.append("text")
  .attr("x", 7).attr("y", 25)
  .attr("font-family", "'Liberation Serif', serif")
  .attr("font-weight", "bold")
  .attr("font-size", 21)
  .attr("fill", "#111")
  .text("(a)");

const defs = svg.append("defs");

function stepTicks(dom, step) {
  const out = [];
  const n0 = Math.ceil(dom[0] / step + 1e-6), n1 = Math.floor(dom[1] / step - 1e-6);
  for (let k = n0; k <= n1; k++) out.push(+(k * step).toFixed(6));
  return out;
}

PANEL_TITLES.forEach((title, i) => {
  const col = i % 4, row = Math.floor(i / 4);
  const x0 = COL_X[col], y0 = ROW_Y[row];
  const x = d3.scaleLinear().domain(X_DOMAIN).range([x0, x0 + PW]);
  const y = d3.scaleLinear().domain(Y_DOMAINS[i]).range([y0 + PH, y0]);
  const g = svg.append("g").attr("class", "panel");

  defs.append("clipPath").attr("id", "clip" + i)
    .append("rect").attr("x", x0 + 1).attr("y", y0 + 1).attr("width", PW - 2).attr("height", PH - 2);

  // tick marks, all pointing inward
  const minor = stepTicks(Y_DOMAINS[i], Y_STEPS[i]);
  const tickAxes = [
    [d3.axisLeft(y).tickValues(minor), `translate(${x0},0)`],
    [d3.axisRight(y).tickValues(minor), `translate(${x0 + PW},0)`],
    [d3.axisTop(x).tickValues(X_TOP_TICKS), `translate(0,${y0})`],
    [d3.axisBottom(x).tickValues(X_BOTTOM_TICKS), `translate(0,${y0 + PH})`]
  ];
  tickAxes.forEach(([ax, tr]) => {
    const a = g.append("g").attr("transform", tr)
      .call(ax.tickSize(-8).tickFormat(""));
    a.select(".domain").remove();
    a.selectAll("line").attr("stroke", INK).attr("stroke-width", 1);
  });

  // y labels (inside, left)
  g.append("g").selectAll("text")
    .data(Y_LABELS[i])
    .join("text")
    .attr("x", x0 + 11)
    .attr("y", d => y(+d))
    .attr("dy", "0.36em")
    .attr("font-family", MONO)
    .attr("font-size", 13)
    .attr("fill", INK)
    .text(d => d);

  // x labels (inside, bottom)
  g.append("g").selectAll("text")
    .data(X_LABELS)
    .join("text")
    .attr("x", d => x(d))
    .attr("y", y0 + PH - 9)
    .attr("text-anchor", "middle")
    .attr("font-family", MONO)
    .attr("font-size", 13)
    .attr("fill", INK)
    .text(d => d);

  g.append("text")
    .attr("x", x0 + PW - 4)
    .attr("y", y0 + PH - 9)
    .attr("text-anchor", "end")
    .attr("font-family", MONO)
    .attr("font-weight", "bold")
    .attr("font-size", 14)
    .attr("fill", "#222")
    .text("D.I.");

  // data
  const plot = g.append("g").attr("clip-path", `url(#clip${i})`);
  PANEL_PTS[i].forEach(([code, pts]) => {
    const [shape, col, filled] = MARKS[code];
    plot.append("g").selectAll("path")
      .data(pts)
      .join("path")
      .attr("transform", d => `translate(${x(d[0])},${y(d[1])})`)
      .attr("d", SHAPES[shape])
      .attr("fill", filled ? COLORS[col] : "none")
      .attr("stroke", COLORS[col])
      .attr("stroke-width", filled ? 0.6 : 1);
  });

  const lineGen = d3.line().x(d => x(d[0])).y(d => y(d[1])).curve(d3.curveCatmullRom);
  PANEL_LINES[i].forEach(([col, dashed, pts]) => {
    plot.append("path")
      .datum(pts)
      .attr("d", lineGen)
      .attr("fill", "none")
      .attr("stroke", COLORS[col])
      .attr("stroke-width", col === "b" ? 1.6 : 1.3)
      .attr("stroke-dasharray", dashed ? "7,4" : null);
  });

  // title with subscripts
  const t = g.append("text")
    .attr("x", x0 + 5)
    .attr("y", y0 + 19)
    .attr("font-family", MONO)
    .attr("font-weight", "bold")
    .attr("font-size", 14)
    .attr("fill", "#222");
  const parts = title.split("_");
  t.append("tspan").text(parts[0]);
  parts.slice(1).forEach(s => {
    t.append("tspan").attr("font-size", 10).attr("dy", 3).text(s[0]);
    if (s.length > 1) t.append("tspan").attr("font-size", 14).attr("dy", -3).text(s.slice(1));
  });

  // frame
  g.append("rect")
    .attr("x", x0).attr("y", y0)
    .attr("width", PW).attr("height", PH)
    .attr("fill", "none")
    .attr("stroke", INK)
    .attr("stroke-width", 1.5);
});
</script>
</body>
</html>
